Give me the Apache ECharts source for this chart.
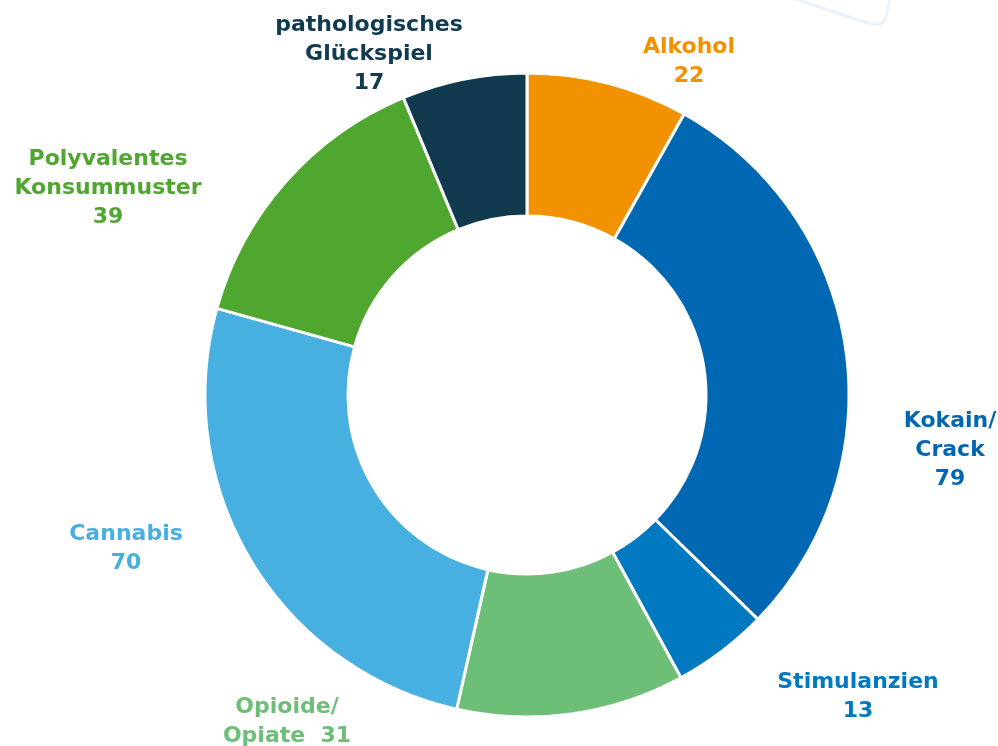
<!DOCTYPE html>
<html>
<head>
<meta charset="utf-8">
<script src="https://cdn.jsdelivr.net/npm/echarts@6/dist/echarts.min.js"></script>
<style>
  html, body { margin: 0; padding: 0; background: #fff; }
  #echarts { width: 998px; height: 746px; }
</style>
</head>
<body>
<div id="echarts"></div>
<script>
const categories = ['Alkohol', 'Kokain/\nCrack', 'Stimulanzien', 'Opioide/\nOpiate', 'Cannabis', 'Polyvalentes\nKonsummuster', 'pathologisches\nGlückspiel'];
const values = [22, 79, 13, 31, 70, 39, 17];
const colors = ['#f39200', '#0067b2', '#0079c1', '#6dbe77', '#48b0e0', '#4fa72f', '#113a4f'];

// label centres (layout only)
const labelPos = [
  [689, 62], [950, 450], [858, 697], [287, 722], [126, 549], [108, 188], [369, 54]
];

let myChart = echarts.init(document.getElementById('echarts'));
let option = {
  animation: false,
  graphic: [
    {
      type: 'bezierCurve',
      shape: { x1: 793, y1: -2, x2: 890, y2: 0, cpx1: 900, cpy1: 35, cpx2: 880, cpy2: 30 },
      style: { stroke: '#edf3fb', lineWidth: 3.5, fill: null },
      z: -1
    }
  ],
  series: [
    {
      type: 'pie',
      center: [527, 395],
      radius: [179, 322],
      startAngle: 90,
      clockwise: true,
      itemStyle: { borderColor: '#fff', borderWidth: 3 },
      label: {
        show: true,
        position: 'outside',
        fontFamily: 'DejaVu Sans',
        fontWeight: 'bold',
        fontSize: 22,
        lineHeight: 29,
        align: 'center',
        verticalAlign: 'middle',
        formatter: p => p.dataIndex === 3 ? p.name + '  ' + p.value : p.name + '\n' + p.value
      },
      labelLine: { show: false },
      labelLayout: p => ({ x: labelPos[p.dataIndex][0], y: labelPos[p.dataIndex][1], align: 'center', verticalAlign: 'middle' }),
      data: categories.map((c, i) => ({
        name: c,
        value: values[i],
        itemStyle: { color: colors[i] },
        label: { color: colors[i] }
      }))
    }
  ]
};
myChart.setOption(option);
</script>
</body>
</html>
